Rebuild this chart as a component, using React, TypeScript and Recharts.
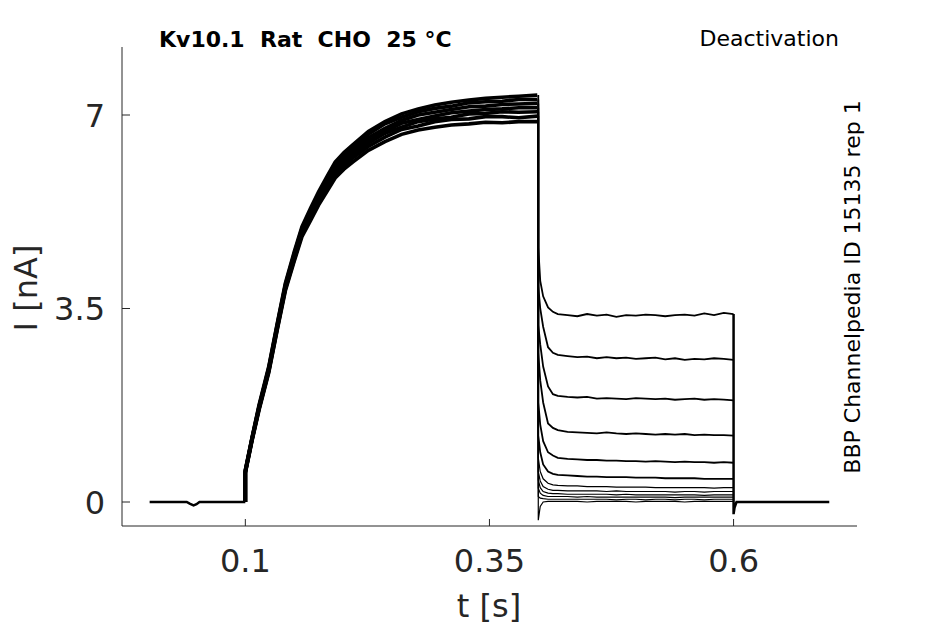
import { LineChart, Line, XAxis, YAxis } from 'recharts';

// sweep time grid [s] and currents [nA]
const PRE_T = [0.002, 0.04, 0.043, 0.047, 0.05, 0.053, 0.1];
const PRE_I = [0, 0, -0.03, -0.06, -0.04, 0, 0];

// activation: the overlapping sweeps form a band that widens towards 0.4 s
const ACT_T = [0.1, 0.1, 0.107, 0.114, 0.124, 0.133, 0.141, 0.15, 0.158, 0.167, 0.175, 0.184, 0.192, 0.201, 0.21, 0.226, 0.243, 0.26, 0.277, 0.294, 0.311, 0.329, 0.346, 0.363, 0.38, 0.399];
const ACT_1 = [0, 0.52, 1.12, 1.66, 2.34, 3.14, 3.82, 4.35, 4.8, 5.1, 5.37, 5.63, 5.86, 6.02, 6.15, 6.36, 6.52, 6.65, 6.73, 6.78, 6.82, 6.84, 6.87, 6.86, 6.88, 6.88];
const ACT_2 = [0, 0.53, 1.13, 1.68, 2.36, 3.16, 3.85, 4.38, 4.84, 5.15, 5.42, 5.68, 5.92, 6.08, 6.22, 6.43, 6.6, 6.74, 6.8, 6.88, 6.92, 6.93, 6.97, 6.97, 6.95, 6.98];
const ACT_3 = [0, 0.54, 1.14, 1.69, 2.38, 3.18, 3.87, 4.41, 4.86, 5.18, 5.45, 5.73, 5.96, 6.13, 6.27, 6.49, 6.67, 6.78, 6.88, 6.93, 6.96, 7.02, 7.03, 7.06, 7.05, 7.06];
const ACT_4 = [0, 0.55, 1.15, 1.7, 2.39, 3.2, 3.88, 4.43, 4.89, 5.21, 5.49, 5.77, 6.0, 6.17, 6.31, 6.53, 6.71, 6.85, 6.92, 6.98, 7.04, 7.07, 7.1, 7.11, 7.13, 7.13];
const ACT_5 = [0, 0.56, 1.16, 1.72, 2.41, 3.22, 3.91, 4.46, 4.92, 5.25, 5.53, 5.81, 6.05, 6.22, 6.36, 6.59, 6.76, 6.9, 7.0, 7.05, 7.1, 7.15, 7.16, 7.19, 7.2, 7.21];
const ACT_6 = [0, 0.57, 1.17, 1.73, 2.43, 3.24, 3.93, 4.49, 4.95, 5.28, 5.57, 5.86, 6.1, 6.27, 6.41, 6.65, 6.84, 6.96, 7.06, 7.12, 7.16, 7.22, 7.24, 7.25, 7.28, 7.28];
const ACT_7 = [0, 0.58, 1.18, 1.75, 2.45, 3.26, 3.96, 4.52, 4.98, 5.32, 5.61, 5.9, 6.15, 6.32, 6.46, 6.7, 6.88, 7.02, 7.11, 7.18, 7.23, 7.27, 7.3, 7.32, 7.34, 7.36];

const DEACT_T = [0.4, 0.4, 0.402, 0.405, 0.41, 0.415, 0.42, 0.43, 0.44, 0.45, 0.46, 0.47, 0.48, 0.49, 0.5, 0.51, 0.52, 0.53, 0.54, 0.55, 0.56, 0.57, 0.58, 0.59, 0.6];
const DEACT_1 = [7.36, 4.6, 4.0, 3.72, 3.52, 3.44, 3.4, 3.38, 3.36, 3.4, 3.37, 3.39, 3.35, 3.38, 3.37, 3.39, 3.38, 3.36, 3.38, 3.39, 3.37, 3.41, 3.38, 3.42, 3.4];
const DEACT_2 = [7.28, 3.9, 3.5, 3.17, 2.8, 2.7, 2.66, 2.64, 2.62, 2.63, 2.6, 2.62, 2.6, 2.61, 2.59, 2.6, 2.61, 2.58, 2.6, 2.57, 2.59, 2.58, 2.6, 2.59, 2.57];
const DEACT_3 = [7.21, 3.2, 2.85, 2.45, 2.09, 1.95, 1.92, 1.9, 1.89, 1.9, 1.87, 1.88, 1.87, 1.86, 1.88, 1.87, 1.86, 1.87, 1.85, 1.86, 1.87, 1.85, 1.86, 1.85, 1.84];
const DEACT_4 = [7.13, 2.7, 2.2, 1.8, 1.42, 1.34, 1.3, 1.27, 1.26, 1.25, 1.24, 1.26, 1.24, 1.23, 1.24, 1.23, 1.22, 1.23, 1.22, 1.23, 1.21, 1.22, 1.21, 1.21, 1.2];
const DEACT_5 = [7.06, 1.8, 1.4, 1.1, 0.9, 0.84, 0.8, 0.78, 0.77, 0.76, 0.76, 0.75, 0.75, 0.74, 0.74, 0.73, 0.74, 0.73, 0.72, 0.73, 0.72, 0.72, 0.71, 0.72, 0.71];
const DEACT_6 = [6.98, 1.2, 0.9, 0.68, 0.55, 0.51, 0.49, 0.48, 0.47, 0.46, 0.46, 0.45, 0.45, 0.45, 0.44, 0.44, 0.44, 0.43, 0.43, 0.43, 0.43, 0.42, 0.42, 0.42, 0.42];
const DEACT_7 = [6.88, 0.8, 0.55, 0.42, 0.34, 0.31, 0.3, 0.29, 0.29, 0.28, 0.28, 0.28, 0.27, 0.27, 0.27, 0.27, 0.26, 0.26, 0.26, 0.26, 0.26, 0.26, 0.25, 0.26, 0.26];
const DEACT_8 = [7.1, 0.55, 0.38, 0.28, 0.23, 0.21, 0.21, 0.2, 0.2, 0.2, 0.2, 0.19, 0.2, 0.19, 0.19, 0.19, 0.19, 0.19, 0.18, 0.19, 0.19, 0.18, 0.19, 0.19, 0.19];
const DEACT_9 = [7.1, 0.4, 0.26, 0.19, 0.16, 0.15, 0.15, 0.14, 0.14, 0.14, 0.14, 0.14, 0.13, 0.14, 0.13, 0.13, 0.13, 0.13, 0.13, 0.13, 0.13, 0.12, 0.13, 0.13, 0.13];
const DEACT_10 = [7.1, 0.25, 0.16, 0.12, 0.1, 0.1, 0.1, 0.1, 0.09, 0.1, 0.09, 0.09, 0.09, 0.09, 0.09, 0.09, 0.09, 0.09, 0.08, 0.09, 0.09, 0.09, 0.09, 0.09, 0.09];
const DEACT_11 = [7.1, 0.1, 0.07, 0.06, 0.05, 0.05, 0.05, 0.05, 0.05, 0.05, 0.05, 0.05, 0.04, 0.05, 0.05, 0.04, 0.05, 0.05, 0.04, 0.05, 0.05, 0.04, 0.05, 0.05, 0.05];
const DEACT_12 = [7.1, -0.33, -0.08, 0.0, 0.01, 0.01, 0.01, 0.01, 0.01, 0.0, 0.01, 0.01, 0.01, 0.01, 0.0, 0.01, 0.01, 0.01, 0.01, 0.0, 0.01, 0.01, 0.01, 0.01, 0.01];

const POST_T = [0.6, 0.6, 0.601, 0.603, 0.61, 0.65, 0.698];
const POST_I = [3.4, -0.22, -0.1, 0, 0, 0, 0];

const X_TICKS = [0.1, 0.35, 0.6];
const Y_TICKS = [0, 3.5, 7];

const FONT = '"DejaVu Sans", sans-serif';
const AXIS_COLOR = '#262626';

const toPoints = (t: number[], i: number[]) => t.map((x, k) => ({ t: x, i: i[k] }));

const sweeps = [
  { key: 'pre', data: toPoints(PRE_T, PRE_I), width: 2.5 },
  ...[ACT_1, ACT_2, ACT_3, ACT_4, ACT_5, ACT_6, ACT_7].map((a, k) => ({
    key: `act${k + 1}`,
    data: toPoints(ACT_T, a),
    width: 3.6,
  })),
  ...[DEACT_1, DEACT_2, DEACT_3, DEACT_4, DEACT_5, DEACT_6, DEACT_7, DEACT_8, DEACT_9, DEACT_10, DEACT_11, DEACT_12].map((d, k) => ({
    key: `deact${k + 1}`,
    data: toPoints(DEACT_T, d),
    width: k < 6 ? 1.8 : 1.2,
  })),
  { key: 'post', data: toPoints(POST_T, POST_I), width: 2.5 },
];

function XTick({ x, y, payload }: any) {
  return (
    <g>
      <line x1={x} x2={x} y1={y} y2={y - 7} stroke={AXIS_COLOR} />
      <text x={x} y={y + 46} textAnchor="middle" fill={AXIS_COLOR} fontSize={32} fontFamily={FONT}>
        {String(payload.value)}
      </text>
    </g>
  );
}

function YTick({ x, y, payload }: any) {
  return (
    <g>
      <line x1={x} x2={x + 8} y1={y} y2={y} stroke={AXIS_COLOR} />
      <text x={x - 17} y={y + 11.5} textAnchor="end" fill={AXIS_COLOR} fontSize={32} fontFamily={FONT}>
        {String(payload.value)}
      </text>
    </g>
  );
}

export default function App() {
  return (
    <div style={{ position: 'absolute', left: 0, top: 0, width: 945, height: 624, background: '#fff' }}>
      <LineChart width={945} height={624} margin={{ top: 47, right: 88, bottom: 0, left: 0 }}>
        <XAxis
          type="number"
          dataKey="t"
          domain={[-0.0263, 0.7264]}
          ticks={X_TICKS}
          interval={0}
          allowDataOverflow
          height={98}
          tickSize={0}
          tickMargin={0}
          tickLine={false}
          axisLine={{ stroke: AXIS_COLOR }}
          tick={<XTick />}
        />
        <YAxis
          type="number"
          dataKey="i"
          domain={[-0.434, 8.23]}
          ticks={Y_TICKS}
          interval={0}
          allowDataOverflow
          width={122}
          tickSize={0}
          tickMargin={0}
          tickLine={false}
          axisLine={{ stroke: AXIS_COLOR }}
          tick={<YTick />}
        />
        {sweeps.map((s) => (
          <Line
            key={s.key}
            data={s.data}
            dataKey="i"
            type="linear"
            stroke="#000"
            strokeWidth={s.width}
            dot={false}
            activeDot={false}
            isAnimationActive={false}
          />
        ))}
      </LineChart>
      <svg width={945} height={624} style={{ position: 'absolute', left: 0, top: 0, pointerEvents: 'none' }}>
        <text x={159} y={46.5} fontSize={22} fontWeight="bold" fontFamily={FONT} fill="#000" style={{ whiteSpace: 'pre' }}>
          {'Kv10.1  Rat  CHO  25 °C'}
        </text>
        <text x={839} y={46} fontSize={22} textAnchor="end" fontFamily={FONT} fill="#000">
          Deactivation
        </text>
        <text
          transform="translate(860,287) rotate(-90)"
          fontSize={22}
          textAnchor="middle"
          fontFamily={FONT}
          fill="#000"
        >
          BBP Channelpedia ID 15135 rep 1
        </text>
        <text transform="translate(37,288) rotate(-90)" fontSize={32} textAnchor="middle" fontFamily={FONT} fill={AXIS_COLOR}>
          I [nA]
        </text>
        <text x={489} y={617} fontSize={32} textAnchor="middle" fontFamily={FONT} fill={AXIS_COLOR}>
          t [s]
        </text>
      </svg>
    </div>
  );
}
